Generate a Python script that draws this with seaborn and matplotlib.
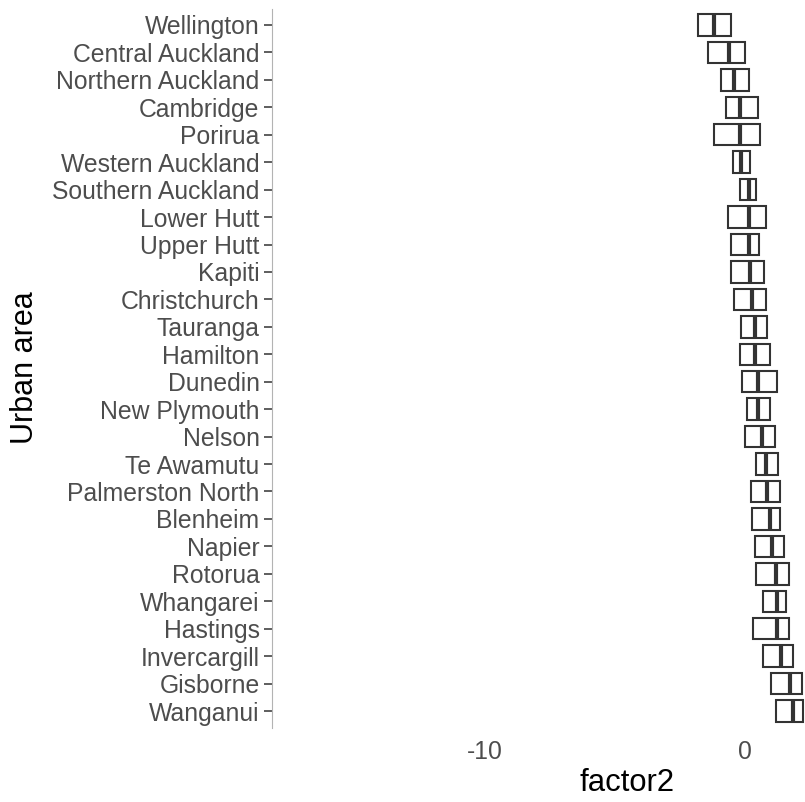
import pandas as pd
import matplotlib
matplotlib.use("Agg")
import matplotlib.pyplot as plt
import seaborn as sns

areas = ["Wellington", "Central Auckland", "Northern Auckland", "Cambridge", "Porirua",
         "Western Auckland", "Southern Auckland", "Lower Hutt", "Upper Hutt", "Kapiti",
         "Christchurch", "Tauranga", "Hamilton", "Dunedin", "New Plymouth", "Nelson",
         "Te Awamutu", "Palmerston North", "Blenheim", "Napier", "Rotorua", "Whangarei",
         "Hastings", "Invercargill", "Gisborne", "Wanganui"]
q1 = [-1.80, -1.42, -0.93, -0.73, -1.21, -0.47, -0.21, -0.67, -0.56, -0.53,
      -0.43, -0.15, -0.20, -0.12, 0.08, -0.01, 0.43, 0.22, 0.25, 0.39,
      0.42, 0.67, 0.31, 0.67, 0.98, 1.17]
median = [-1.20, -0.63, -0.42, -0.20, -0.20, -0.15, 0.15, 0.15, 0.15, 0.18,
          0.25, 0.38, 0.38, 0.50, 0.50, 0.63, 0.80, 0.83, 0.95, 1.02,
          1.17, 1.21, 1.21, 1.37, 1.72, 1.85]
q3 = [-0.55, -0.01, 0.15, 0.48, 0.58, 0.18, 0.42, 0.79, 0.52, 0.71,
      0.79, 0.84, 0.94, 1.22, 0.95, 1.13, 1.27, 1.33, 1.35, 1.48,
      1.68, 1.57, 1.67, 1.85, 2.17, 2.21]
x_ticks = [-10, 0]

# five points per area so that the quartiles come out as read
rows = []
for a, lo, md, hi in zip(areas, q1, median, q3):
    for v in (lo, lo, md, hi, hi):
        rows.append({"Urban area": a, "factor2": v})
df = pd.DataFrame(rows)

sns.set_theme(style="white")
plt.rcParams["font.family"] = ["Liberation Sans", "DejaVu Sans"]

fig = plt.figure(figsize=(8.05, 8.02), dpi=100)
# the reference is cropped on the right, so the panel runs past the figure edge
ax = fig.add_axes([272 / 805, 1 - 727.5 / 802, 711 / 805, 719 / 802])

sns.boxplot(data=df, x="factor2", y="Urban area", order=areas, ax=ax,
            whis=0, showcaps=False, showfliers=False, width=0.78,
            color="white", linecolor="#333333", linewidth=1.5,
            whiskerprops={"linewidth": 0},
            medianprops={"linewidth": 3.0, "color": "#333333"})

ax.set_xticks(x_ticks)
ax.set_xticklabels([str(t) for t in x_ticks])
ax.set_xlim(-18.2, 9.15)
ax.set_ylim(25.6, -0.6)

for s in ["top", "right", "bottom"]:
    ax.spines[s].set_visible(False)
ax.spines["left"].set_color("#b3b3b3")
ax.spines["left"].set_linewidth(0.8)

ax.tick_params(axis="x", length=0, pad=9, labelsize=17.8, labelcolor="#4d4d4d")
ax.tick_params(axis="y", left=True, length=6, width=1.1, color="#333333",
               pad=3, labelsize=17.8, labelcolor="#4d4d4d")

ax.set_xlabel("factor2", fontsize=22.3, color="black", labelpad=3)
ax.set_ylabel("Urban area", fontsize=22, color="black", labelpad=9)

fig.savefig("out.png", dpi=100)
